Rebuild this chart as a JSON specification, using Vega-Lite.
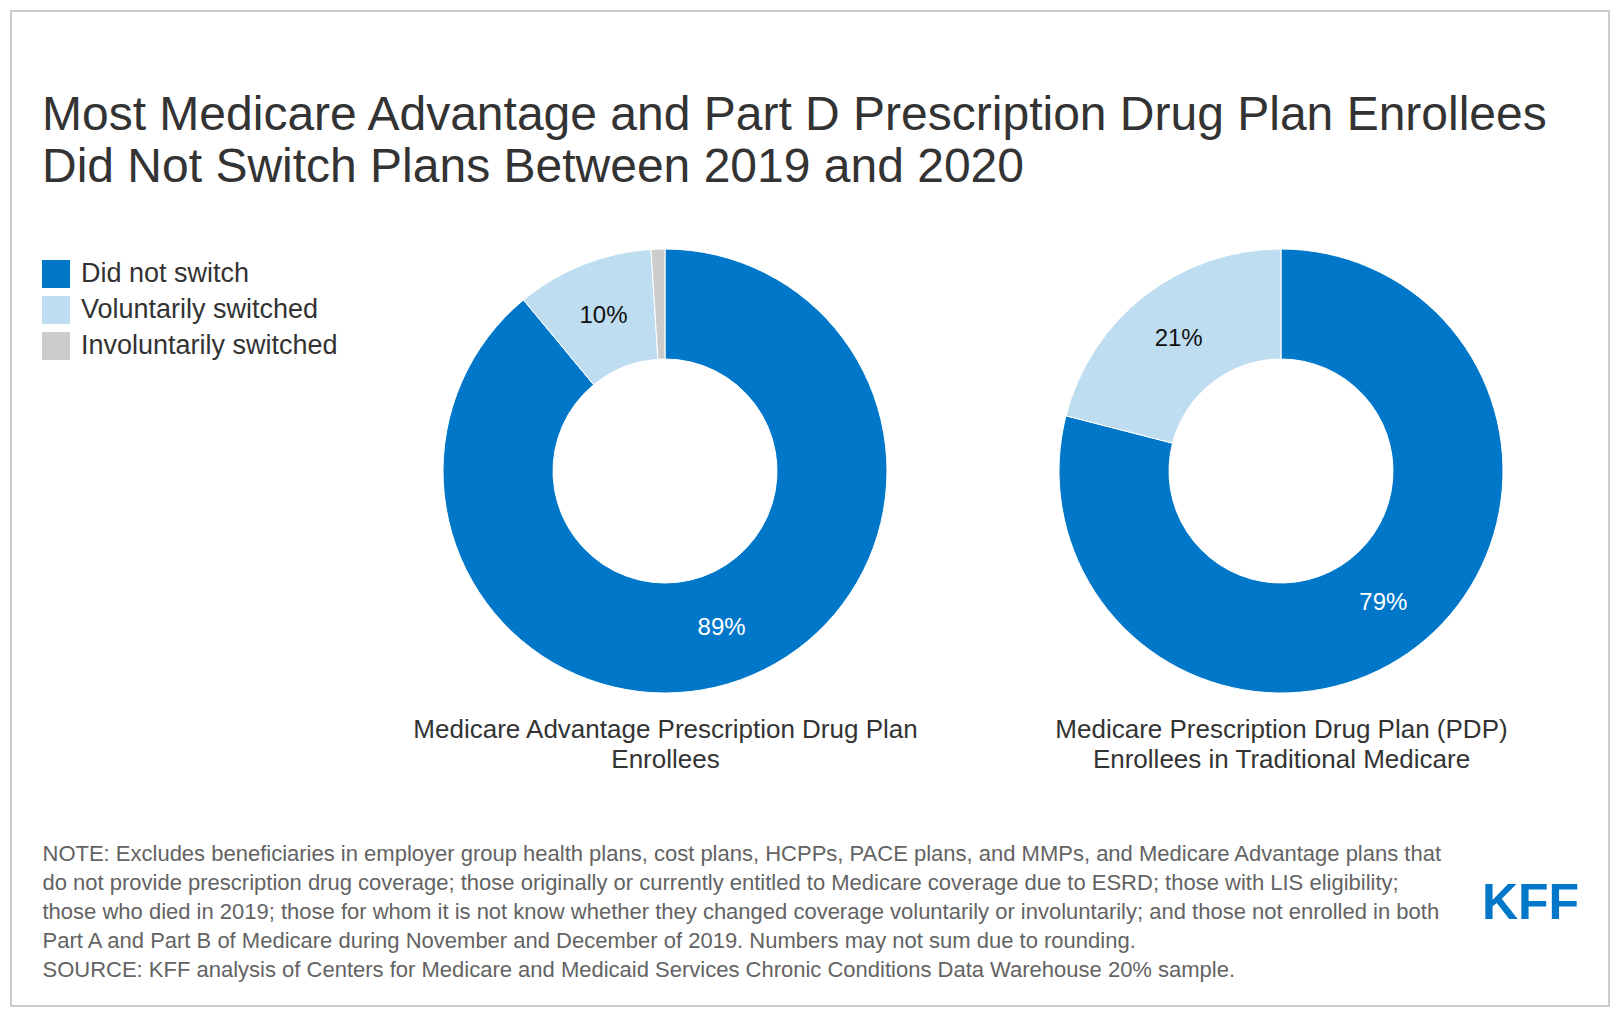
{
  "$schema": "https://vega.github.io/schema/vega-lite/v6.json",
  "autosize": {"type": "none"},
  "width": 1598,
  "height": 995,
  "padding": {"left": 11, "top": 11, "right": 11, "bottom": 12},
  "background": "white",
  "config": {
    "view": {"stroke": "#cccccc", "strokeWidth": 2},
    "font": "Liberation Sans"
  },
  "title": {
    "text": ["Most Medicare Advantage and Part D Prescription Drug Plan Enrollees", "Did Not Switch Plans Between 2019 and 2020"],
    "fontSize": 48,
    "font": "Liberation Sans",
    "fontWeight": "normal",
    "color": "#333333",
    "anchor": "start",
    "frame": "group",
    "dx": 31,
    "offset": -181,
    "lineHeight": 52,
    "limit": 1600
  },
  "data": {
    "values": [
      {"chart": "MA", "plan": "Medicare Advantage Prescription Drug Plan\nEnrollees", "category": "Did not switch", "share": 0.89},
      {"chart": "MA", "plan": "Medicare Advantage Prescription Drug Plan\nEnrollees", "category": "Voluntarily switched", "share": 0.10},
      {"chart": "MA", "plan": "Medicare Advantage Prescription Drug Plan\nEnrollees", "category": "Involuntarily switched", "share": 0.01},
      {"chart": "PDP", "plan": "Medicare Prescription Drug Plan (PDP)\nEnrollees in Traditional Medicare", "category": "Did not switch", "share": 0.79},
      {"chart": "PDP", "plan": "Medicare Prescription Drug Plan (PDP)\nEnrollees in Traditional Medicare", "category": "Voluntarily switched", "share": 0.21}
    ]
  },
  "encoding": {
    "x": {
      "field": "plan",
      "type": "nominal",
      "sort": null,
      "scale": {"type": "point", "range": [654, 1270], "padding": 0},
      "axis": {
        "orient": "bottom",
        "offset": -313,
        "domain": false,
        "ticks": false,
        "tickSize": 0,
        "grid": false,
        "labelAngle": 0,
        "labelAlign": "center",
        "labelBaseline": "top",
        "labelPadding": 23,
        "labelFontSize": 26,
        "labelLineHeight": 30,
        "labelColor": "#333333",
        "labelFont": "Liberation Sans",
        "labelLimit": 800,
        "labelExpr": "split(datum.label, '\\n')",
        "title": [
          "NOTE: Excludes beneficiaries in employer group health plans, cost plans, HCPPs, PACE plans, and MMPs, and Medicare Advantage plans that",
          "do not provide prescription drug coverage; those originally or currently entitled to Medicare coverage due to ESRD; those with LIS eligibility;",
          "those who died in 2019; those for whom it is not know whether they changed coverage voluntarily or involuntarily; and those not enrolled in both",
          "Part A and Part B of Medicare during November and December of 2019. Numbers may not sum due to rounding.",
          "SOURCE: KFF analysis of Centers for Medicare and Medicaid Services Chronic Conditions Data Warehouse 20% sample."
        ],
        "titleFont": "Liberation Sans",
        "titleFontSize": 22,
        "titleFontWeight": "normal",
        "titleColor": "#636363",
        "titleAnchor": "start",
        "titleAlign": "left",
        "titleBaseline": "alphabetic",
        "titleAngle": 0,
        "titleX": 31,
        "titleY": 167,
        "titleLineHeight": 29,
        "titleLimit": 1600
      }
    },
    "y": {
      "datum": "all",
      "type": "nominal",
      "scale": {"type": "point", "range": [0, 920]},
      "axis": {
        "orient": "right",
        "labels": false,
        "ticks": false,
        "domain": false,
        "grid": false,
        "title": "KFF",
        "titleAngle": 0,
        "titleAlign": "center",
        "titleBaseline": "alphabetic",
        "titleX": -79,
        "titleY": 907,
        "titleFont": "Liberation Sans",
        "titleFontSize": 50,
        "titleFontWeight": "bold",
        "titleColor": "#0077c8"
      }
    }
  },
  "layer": [
    {
      "transform": [{"filter": {"field": "chart", "equal": "MA"}}],
      "mark": {"type": "arc", "outerRadius": 222, "innerRadius": 112, "stroke": "white", "strokeWidth": 1},
      "encoding": {
        "theta": {"field": "share", "type": "quantitative", "stack": true},
        "order": {"field": "share", "sort": "descending"},
        "color": {
          "field": "category",
          "type": "nominal",
          "scale": {
            "domain": ["Did not switch", "Voluntarily switched", "Involuntarily switched"],
            "range": ["#0077c8", "#bfddf0", "#cccccc"]
          },
          "legend": {
            "orient": "none",
            "legendX": 31,
            "legendY": 249,
            "title": null,
            "padding": 0,
            "symbolType": "square",
            "symbolSize": 784,
            "symbolStrokeWidth": 0,
            "labelFont": "Liberation Sans",
            "labelFontSize": 27,
            "labelColor": "#333333",
            "labelOffset": 11,
            "labelLimit": 500,
            "rowPadding": 8
          }
        }
      }
    },
    {
      "transform": [{"filter": {"field": "chart", "equal": "PDP"}}],
      "mark": {"type": "arc", "outerRadius": 222, "innerRadius": 112, "stroke": "white", "strokeWidth": 1},
      "encoding": {
        "theta": {"field": "share", "type": "quantitative", "stack": true},
        "order": {"field": "share", "sort": "descending"},
        "color": {"field": "category", "type": "nominal"}
      }
    },
    {
      "transform": [{"filter": {"field": "chart", "equal": "MA"}}, {"filter": "datum.share >= 0.05"}],
      "mark": {"type": "text", "radius": 167, "fontSize": 24, "font": "Liberation Sans"},
      "encoding": {
        "theta": {"field": "share", "type": "quantitative", "stack": true},
        "order": {"field": "share", "sort": "descending"},
        "detail": {"field": "category", "type": "nominal"},
        "text": {"field": "share", "type": "quantitative", "format": ".0%"},
        "color": {"condition": {"test": "datum.category == 'Did not switch'", "value": "white"}, "value": "#111111"}
      }
    },
    {
      "transform": [{"filter": {"field": "chart", "equal": "PDP"}}, {"filter": "datum.share >= 0.05"}],
      "mark": {"type": "text", "radius": 167, "fontSize": 24, "font": "Liberation Sans"},
      "encoding": {
        "theta": {"field": "share", "type": "quantitative", "stack": true},
        "order": {"field": "share", "sort": "descending"},
        "detail": {"field": "category", "type": "nominal"},
        "text": {"field": "share", "type": "quantitative", "format": ".0%"},
        "color": {"condition": {"test": "datum.category == 'Did not switch'", "value": "white"}, "value": "#111111"}
      }
    }
  ]
}
